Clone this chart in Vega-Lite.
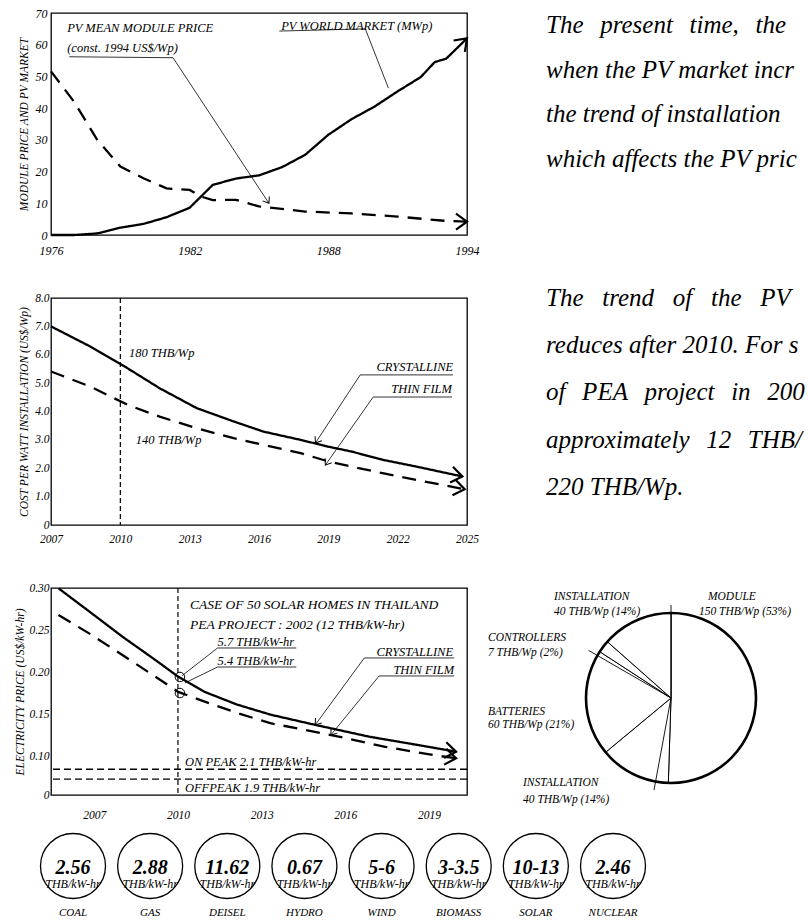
{
  "$schema": "https://vega.github.io/schema/vega-lite/v6.json",
  "background": "white",
  "padding": {"left": 14, "top": 6, "right": 0, "bottom": 0},
  "config": {
    "font": "Liberation Serif",
    "view": {"stroke": "black", "strokeWidth": 1.3},
    "axis": {"grid": false, "domain": false, "ticks": false, "labelOverlap": false, "labelFlush": false, "labelFont": "Liberation Serif", "labelFontStyle": "italic", "labelColor": "black", "labelFontSize": 11.5, "titleFont": "Liberation Serif", "titleFontStyle": "italic", "titleFontWeight": "normal", "titleColor": "black", "titleFontSize": 11.5},
    "text": {"font": "Liberation Serif", "fontStyle": "italic", "color": "black"},
    "line": {"color": "black"},
    "rule": {"color": "black"}
  },
  "datasets": {
    "topLines": [
      {"series": "PV world market", "year": 1976, "value": 0},
      {"series": "PV world market", "year": 1977, "value": 0},
      {"series": "PV world market", "year": 1978, "value": 0.5},
      {"series": "PV world market", "year": 1979, "value": 2.3},
      {"series": "PV world market", "year": 1980, "value": 3.5},
      {"series": "PV world market", "year": 1981, "value": 5.6},
      {"series": "PV world market", "year": 1982, "value": 8.6},
      {"series": "PV world market", "year": 1983, "value": 15.8},
      {"series": "PV world market", "year": 1984, "value": 17.8},
      {"series": "PV world market", "year": 1985, "value": 18.8},
      {"series": "PV world market", "year": 1986, "value": 21.4},
      {"series": "PV world market", "year": 1987, "value": 25.3},
      {"series": "PV world market", "year": 1988, "value": 31.6},
      {"series": "PV world market", "year": 1989, "value": 36.5},
      {"series": "PV world market", "year": 1990, "value": 40.5},
      {"series": "PV world market", "year": 1991, "value": 45.3},
      {"series": "PV world market", "year": 1992, "value": 49.8},
      {"series": "PV world market", "year": 1992.6, "value": 54.5},
      {"series": "PV world market", "year": 1993.1, "value": 55.6},
      {"series": "PV world market", "year": 1994, "value": 62},
      {"series": "PV mean module price", "year": 1976, "value": 51.6},
      {"series": "PV mean module price", "year": 1977, "value": 42},
      {"series": "PV mean module price", "year": 1978, "value": 30},
      {"series": "PV mean module price", "year": 1979, "value": 21.6},
      {"series": "PV mean module price", "year": 1980, "value": 17.9},
      {"series": "PV mean module price", "year": 1981, "value": 14.7},
      {"series": "PV mean module price", "year": 1982, "value": 14.2},
      {"series": "PV mean module price", "year": 1982.5, "value": 12.1},
      {"series": "PV mean module price", "year": 1983, "value": 11},
      {"series": "PV mean module price", "year": 1984, "value": 11.1},
      {"series": "PV mean module price", "year": 1985, "value": 9},
      {"series": "PV mean module price", "year": 1987, "value": 7.4},
      {"series": "PV mean module price", "year": 1989, "value": 6.8},
      {"series": "PV mean module price", "year": 1991, "value": 5.8},
      {"series": "PV mean module price", "year": 1993, "value": 4.5},
      {"series": "PV mean module price", "year": 1994, "value": 4.2}
    ],
    "topArrows": [
      {"arrow": "market", "year": 1994, "value": 62},
      {"arrow": "price", "year": 1994, "value": 4.2},
      {"arrow": "leader", "year": 1985.43, "value": 10.0}
    ],
    "topLeaders": [
      {"x": 1976.79, "y": 56.2, "x2": 1981.28, "y2": 55.9},
      {"x": 1981.28, "y": 55.9, "x2": 1985.43, "y2": 10.0},
      {"x": 1985.88, "y": 64.3, "x2": 1989.6, "y2": 65.0},
      {"x": 1989.6, "y": 65.0, "x2": 1990.6, "y2": 46.3}
    ],
    "topNotes": [
      {"x": 1976.7, "y": 65.4, "text": "PV MEAN MODULE PRICE"},
      {"x": 1976.7, "y": 59.1, "text": "(const. 1994 US$/Wp)"},
      {"x": 1985.96, "y": 65.9, "text": "PV WORLD MARKET (MWp)"}
    ],
    "midLines": [
      {"series": "Crystalline", "year": 2007, "value": 7.0},
      {"series": "Crystalline", "year": 2008.7, "value": 6.29},
      {"series": "Crystalline", "year": 2010.3, "value": 5.53},
      {"series": "Crystalline", "year": 2011.7, "value": 4.82},
      {"series": "Crystalline", "year": 2013.3, "value": 4.12},
      {"series": "Crystalline", "year": 2014.9, "value": 3.65},
      {"series": "Crystalline", "year": 2016.2, "value": 3.29},
      {"series": "Crystalline", "year": 2017.8, "value": 3.0},
      {"series": "Crystalline", "year": 2019.0, "value": 2.76},
      {"series": "Crystalline", "year": 2020.0, "value": 2.59},
      {"series": "Crystalline", "year": 2021.4, "value": 2.29},
      {"series": "Crystalline", "year": 2022.8, "value": 2.06},
      {"series": "Crystalline", "year": 2024.8, "value": 1.71},
      {"series": "Thin film", "year": 2007, "value": 5.41},
      {"series": "Thin film", "year": 2008.7, "value": 4.88},
      {"series": "Thin film", "year": 2010.3, "value": 4.24},
      {"series": "Thin film", "year": 2011.7, "value": 3.82},
      {"series": "Thin film", "year": 2013.3, "value": 3.41},
      {"series": "Thin film", "year": 2014.9, "value": 3.06},
      {"series": "Thin film", "year": 2016.2, "value": 2.82},
      {"series": "Thin film", "year": 2017.8, "value": 2.53},
      {"series": "Thin film", "year": 2019.0, "value": 2.24},
      {"series": "Thin film", "year": 2020.0, "value": 2.06},
      {"series": "Thin film", "year": 2021.4, "value": 1.82},
      {"series": "Thin film", "year": 2022.8, "value": 1.59},
      {"series": "Thin film", "year": 2024.9, "value": 1.26}
    ],
    "midArrows": [
      {"arrow": "end", "year": 2024.8, "value": 1.71},
      {"arrow": "end", "year": 2024.9, "value": 1.26},
      {"arrow": "leader", "year": 2018.44, "value": 2.89},
      {"arrow": "leader", "year": 2018.87, "value": 2.11}
    ],
    "midLeaders": [
      {"x": 2020.38, "y": 5.29, "x2": 2024.39, "y2": 5.29},
      {"x": 2020.38, "y": 5.29, "x2": 2018.44, "y2": 2.89},
      {"x": 2020.94, "y": 4.51, "x2": 2024.35, "y2": 4.51},
      {"x": 2020.94, "y": 4.51, "x2": 2018.87, "y2": 2.11}
    ],
    "midNotesLeft": [
      {"x": 2010.37, "y": 6.06, "text": "180 THB/Wp"},
      {"x": 2010.67, "y": 3.0, "text": "140 THB/Wp"}
    ],
    "midNotesRight": [
      {"x": 2024.4, "y": 5.33, "text": "CRYSTALLINE"},
      {"x": 2024.35, "y": 4.55, "text": "THIN FILM"}
    ],
    "botLines": [
      {"series": "Crystalline", "year": 2005.72, "value": 0.2996},
      {"series": "Crystalline", "year": 2006.83, "value": 0.272},
      {"series": "Crystalline", "year": 2008.01, "value": 0.2424},
      {"series": "Crystalline", "year": 2009.19, "value": 0.2148},
      {"series": "Crystalline", "year": 2010.01, "value": 0.195},
      {"series": "Crystalline", "year": 2010.96, "value": 0.177},
      {"series": "Crystalline", "year": 2012.12, "value": 0.162},
      {"series": "Crystalline", "year": 2013.33, "value": 0.15},
      {"series": "Crystalline", "year": 2014.92, "value": 0.138},
      {"series": "Crystalline", "year": 2016.86, "value": 0.124},
      {"series": "Crystalline", "year": 2018.63, "value": 0.114},
      {"series": "Crystalline", "year": 2019.97, "value": 0.1063},
      {"series": "Thin film", "year": 2005.72, "value": 0.268},
      {"series": "Thin film", "year": 2006.83, "value": 0.246},
      {"series": "Thin film", "year": 2008.01, "value": 0.2207},
      {"series": "Thin film", "year": 2009.19, "value": 0.195},
      {"series": "Thin film", "year": 2010.01, "value": 0.177},
      {"series": "Thin film", "year": 2010.96, "value": 0.1655},
      {"series": "Thin film", "year": 2012.13, "value": 0.152},
      {"series": "Thin film", "year": 2013.31, "value": 0.14},
      {"series": "Thin film", "year": 2015.49, "value": 0.126},
      {"series": "Thin film", "year": 2017.43, "value": 0.112},
      {"series": "Thin film", "year": 2019.2, "value": 0.102},
      {"series": "Thin film", "year": 2019.97, "value": 0.0985}
    ],
    "botArrows": [
      {"arrow": "end", "year": 2019.97, "value": 0.1063},
      {"arrow": "end", "year": 2019.97, "value": 0.0985},
      {"arrow": "leader", "year": 2014.92, "value": 0.138},
      {"arrow": "leader", "year": 2015.48, "value": 0.126}
    ],
    "botMarkers": [
      {"year": 2010.07, "value": 0.1947},
      {"year": 2010.07, "value": 0.1757}
    ],
    "botTariffs": [
      {"tariff": "On peak 2.1 THB/kW-hr", "value": 0.0855},
      {"tariff": "Off peak 1.9 THB/kW-hr", "value": 0.0737}
    ],
    "botLeaders": [
      {"x": 2011.42, "y": 0.229, "x2": 2014.24, "y2": 0.229},
      {"x": 2011.42, "y": 0.229, "x2": 2010.14, "y2": 0.196},
      {"x": 2011.42, "y": 0.2065, "x2": 2014.24, "y2": 0.2065},
      {"x": 2011.42, "y": 0.2065, "x2": 2010.25, "y2": 0.1876},
      {"x": 2016.68, "y": 0.2172, "x2": 2019.9, "y2": 0.2172},
      {"x": 2016.68, "y": 0.2172, "x2": 2014.92, "y2": 0.138},
      {"x": 2017.21, "y": 0.1959, "x2": 2019.9, "y2": 0.1959},
      {"x": 2017.21, "y": 0.1959, "x2": 2015.48, "y2": 0.126}
    ],
    "botNotesLeft": [
      {"x": 2010.43, "y": 0.28, "size": "big", "text": "CASE OF 50 SOLAR HOMES IN THAILAND"},
      {"x": 2010.43, "y": 0.2562, "size": "big", "text": "PEA PROJECT : 2002 (12 THB/kW-hr)"},
      {"x": 2011.42, "y": 0.2361, "size": "small", "text": "5.7 THB/kW-hr"},
      {"x": 2011.42, "y": 0.2136, "size": "small", "text": "5.4 THB/kW-hr"},
      {"x": 2010.25, "y": 0.0945, "size": "small", "text": "ON PEAK  2.1 THB/kW-hr"},
      {"x": 2010.25, "y": 0.0635, "size": "small", "text": "OFFPEAK 1.9 THB/kW-hr"}
    ],
    "botNotesRight": [
      {"x": 2019.86, "y": 0.2243, "text": "CRYSTALLINE"},
      {"x": 2019.9, "y": 0.203, "text": "THIN FILM"}
    ],
    "pie": [
      {"part": "Module", "thb": 150, "order": 1},
      {"part": "Installation", "thb": 40, "order": 2},
      {"part": "Batteries", "thb": 60, "order": 3},
      {"part": "Controllers", "thb": 7, "order": 4},
      {"part": "Installation (top)", "thb": 40, "order": 5}
    ],
    "pieLeaders": [
      {"x": 0, "y": 0, "x2": 0, "y2": 1.094},
      {"x": 0, "y": 0, "x2": -0.2, "y2": -1.082},
      {"x": 0, "y": 0, "x2": -0.97, "y2": 0.56}
    ],
    "pieNotes": [
      {"x": -1.376, "y": 1.188, "text": "INSTALLATION"},
      {"x": -1.376, "y": 1.012, "text": "40 THB/Wp (14%)"},
      {"x": 0.435, "y": 1.188, "text": "MODULE"},
      {"x": 0.329, "y": 1.012, "text": "150 THB/Wp (53%)"},
      {"x": -2.153, "y": 0.706, "text": "CONTROLLERS"},
      {"x": -2.153, "y": 0.529, "text": "7 THB/Wp (2%)"},
      {"x": -2.153, "y": -0.165, "text": "BATTERIES"},
      {"x": -2.153, "y": -0.318, "text": "60 THB/Wp (21%)"},
      {"x": -1.741, "y": -1.0, "text": "INSTALLATION"},
      {"x": -1.741, "y": -1.2, "text": "40 THB/Wp (14%)"}
    ],
    "costs": [
      {"source": "COAL", "cost": "2.56"},
      {"source": "GAS", "cost": "2.88"},
      {"source": "DEISEL", "cost": "11.62"},
      {"source": "HYDRO", "cost": "0.67"},
      {"source": "WIND", "cost": "5-6"},
      {"source": "BIOMASS", "cost": "3-3.5"},
      {"source": "SOLAR", "cost": "10-13"},
      {"source": "NUCLEAR", "cost": "2.46"}
    ],
    "para1": [
      {"line": 1, "text": "The\u2004\u2004present\u2004\u2004time,\u2004\u2004the\u2004\u2004c"},
      {"line": 2, "text": "when the PV market incr"},
      {"line": 3, "text": "the trend of installation"},
      {"line": 4, "text": "which affects the PV pric"}
    ],
    "para2": [
      {"line": 1, "text": "The\u2002\u2005trend\u2002\u2005of\u2002\u2005the\u2002\u2005PV"},
      {"line": 2, "text": "reduces after 2010. For s"},
      {"line": 3, "text": "of\u2004\u2004PEA\u2004\u2004project\u2004\u2004in\u2004\u20042002"},
      {"line": 4, "text": "approximately\u2004\u200412\u2004\u2004THB/"},
      {"line": 5, "text": "220 THB/Wp."}
    ]
  },
  "columns": 2,
  "bounds": "flush",
  "spacing": {"row": 63, "column": 79},
  "concat": [
    {
      "width": 416,
      "height": 222,
      "layer": [
        {
          "data": {"name": "topLines"},
          "mark": {"type": "line", "strokeWidth": 2.3, "color": "black"},
          "encoding": {
            "x": {"field": "year", "type": "quantitative", "scale": {"domain": [1976, 1994], "nice": false, "zero": false}, "axis": {"values": [1976, 1982, 1988, 1994], "format": "d", "title": null, "labelPadding": 10, "labelFontSize": 12, "labelFlush": false}},
            "y": {"field": "value", "type": "quantitative", "scale": {"domain": [0, 70], "nice": false}, "axis": {"values": [0, 10, 20, 30, 40, 50, 60, 70], "tickCount": 8, "labelOverlap": false, "labelFlush": false, "title": "MODULE PRICE AND PV MARKET", "labelPadding": 4, "titlePadding": 6, "labelFontSize": 12}},
            "strokeDash": {"field": "series", "type": "nominal", "scale": {"domain": ["PV world market", "PV mean module price"], "range": [[1, 0], [14, 9]]}, "legend": null}
          }
        },
        {
          "data": {"name": "topLeaders"},
          "mark": {"type": "rule", "strokeWidth": 0.8, "color": "black"},
          "encoding": {"x": {"field": "x", "type": "quantitative"}, "x2": {"field": "x2"}, "y": {"field": "y", "type": "quantitative"}, "y2": {"field": "y2"}}
        },
        {
          "data": {"name": "topNotes"},
          "mark": {"type": "text", "align": "left", "baseline": "middle", "fontSize": 12.5},
          "encoding": {"x": {"field": "x", "type": "quantitative"}, "y": {"field": "y", "type": "quantitative"}, "text": {"field": "text"}}
        },
        {
          "data": {"name": "topArrows"},
          "transform": [{"filter": "datum.arrow == 'market'"}],
          "mark": {"type": "point", "shape": "M-1.1,-0.8L0,0L-1.1,0.8", "filled": false, "stroke": "black", "strokeWidth": 2.2, "size": 400, "angle": -45, "opacity": 1},
          "encoding": {"x": {"field": "year", "type": "quantitative"}, "y": {"field": "value", "type": "quantitative"}}
        },
        {
          "data": {"name": "topArrows"},
          "transform": [{"filter": "datum.arrow == 'price'"}],
          "mark": {"type": "point", "shape": "M-1.1,-0.8L0,0L-1.1,0.8", "filled": false, "stroke": "black", "strokeWidth": 2.2, "size": 400, "angle": 0, "opacity": 1},
          "encoding": {"x": {"field": "year", "type": "quantitative"}, "y": {"field": "value", "type": "quantitative"}}
        },
        {
          "data": {"name": "topArrows"},
          "transform": [{"filter": "datum.arrow == 'leader'"}],
          "mark": {"type": "point", "shape": "M-1.1,-0.8L0,0L-1.1,0.8", "filled": false, "stroke": "black", "strokeWidth": 1, "size": 100, "angle": 57, "opacity": 1},
          "encoding": {"x": {"field": "year", "type": "quantitative"}, "y": {"field": "value", "type": "quantitative"}}
        }
      ]
    },
    {
      "width": 263,
      "height": 222,
      "view": {"stroke": null},
      "data": {"name": "para1"},
      "mark": {"type": "text", "align": "left", "baseline": "middle", "fontSize": 25, "limit": 263, "ellipsis": "\u200b"},
      "encoding": {
        "x": {"datum": 0, "type": "quantitative", "scale": {"domain": [0, 1]}, "axis": null},
        "y": {"field": "line", "type": "quantitative", "scale": {"domain": [0.73, 5.719], "reverse": true, "nice": false, "zero": false}, "axis": null},
        "text": {"field": "text"}
      }
    },
    {
      "width": 416,
      "height": 227,
      "layer": [
        {
          "data": {"name": "midLines"},
          "mark": {"type": "line", "strokeWidth": 2.3, "color": "black"},
          "encoding": {
            "x": {"field": "year", "type": "quantitative", "scale": {"domain": [2007, 2025], "nice": false, "zero": false}, "axis": {"values": [2007, 2010, 2013, 2016, 2019, 2022, 2025], "format": "d", "title": null, "labelPadding": 8, "labelFlush": false}},
            "y": {"field": "value", "type": "quantitative", "scale": {"domain": [0, 8], "nice": false}, "axis": {"values": [0, 1, 2, 3, 4, 5, 6, 7, 8], "tickCount": 9, "labelOverlap": false, "labelFlush": false, "labelExpr": "datum.value == 0 ? '0' : format(datum.value, '.1f')", "title": "COST PER WATT INSTALLATION (US$/Wp)", "labelPadding": 2, "titlePadding": 5}},
            "strokeDash": {"field": "series", "type": "nominal", "scale": {"domain": ["Crystalline", "Thin film"], "range": [[1, 0], [13, 8]]}, "legend": null}
          }
        },
        {
          "data": {"values": [{"year": 2010}]},
          "mark": {"type": "rule", "strokeWidth": 1.2, "strokeDash": [5, 3], "color": "black"},
          "encoding": {"x": {"field": "year", "type": "quantitative"}}
        },
        {
          "data": {"name": "midLeaders"},
          "mark": {"type": "rule", "strokeWidth": 0.8, "color": "black"},
          "encoding": {"x": {"field": "x", "type": "quantitative"}, "x2": {"field": "x2"}, "y": {"field": "y", "type": "quantitative"}, "y2": {"field": "y2"}}
        },
        {
          "data": {"name": "midNotesLeft"},
          "mark": {"type": "text", "align": "left", "baseline": "middle", "fontSize": 12.5},
          "encoding": {"x": {"field": "x", "type": "quantitative"}, "y": {"field": "y", "type": "quantitative"}, "text": {"field": "text"}}
        },
        {
          "data": {"name": "midNotesRight"},
          "mark": {"type": "text", "align": "right", "baseline": "bottom", "fontSize": 12.5},
          "encoding": {"x": {"field": "x", "type": "quantitative"}, "y": {"field": "y", "type": "quantitative"}, "text": {"field": "text"}}
        },
        {
          "data": {"name": "midArrows"},
          "transform": [{"filter": "datum.arrow == 'end'"}],
          "mark": {"type": "point", "shape": "M-1.1,-0.8L0,0L-1.1,0.8", "filled": false, "stroke": "black", "strokeWidth": 2.2, "size": 400, "angle": 10, "opacity": 1},
          "encoding": {"x": {"field": "year", "type": "quantitative"}, "y": {"field": "value", "type": "quantitative"}}
        },
        {
          "data": {"name": "midArrows"},
          "transform": [{"filter": "datum.arrow == 'leader'"}],
          "mark": {"type": "point", "shape": "M-1.1,-0.8L0,0L-1.1,0.8", "filled": false, "stroke": "black", "strokeWidth": 1, "size": 100, "angle": 124, "opacity": 1},
          "encoding": {"x": {"field": "year", "type": "quantitative"}, "y": {"field": "value", "type": "quantitative"}}
        }
      ]
    },
    {
      "width": 263,
      "height": 227,
      "view": {"stroke": null},
      "data": {"name": "para2"},
      "mark": {"type": "text", "align": "left", "baseline": "middle", "fontSize": 25, "limit": 263, "ellipsis": "\u200b"},
      "encoding": {
        "x": {"datum": 0, "type": "quantitative", "scale": {"domain": [0, 1]}, "axis": null},
        "y": {"field": "line", "type": "quantitative", "scale": {"domain": [1, 5.81], "reverse": true, "nice": false, "zero": false}, "axis": null},
        "text": {"field": "text"}
      }
    },
    {
      "width": 416,
      "height": 207,
      "layer": [
        {
          "data": {"name": "botLines"},
          "mark": {"type": "line", "strokeWidth": 2.3, "color": "black"},
          "encoding": {
            "x": {"field": "year", "type": "quantitative", "scale": {"domain": [2005.45, 2020.36], "nice": false, "zero": false}, "axis": {"values": [2007, 2010, 2013, 2016, 2019], "format": "d", "title": null, "labelPadding": 14, "labelFlush": false}},
            "y": {"field": "value", "type": "quantitative", "scale": {"domain": [0.055, 0.3], "nice": false, "zero": false}, "axis": {"values": [0.055, 0.1, 0.15, 0.2, 0.25, 0.3], "labelOverlap": false, "labelFlush": false, "labelExpr": "datum.value < 0.06 ? '0' : format(datum.value, '.2f')", "title": "ELECTRICITY PRICE (US$/kW-hr)", "labelPadding": 2, "titlePadding": 3}},
            "strokeDash": {"field": "series", "type": "nominal", "scale": {"domain": ["Crystalline", "Thin film"], "range": [[1, 0], [13, 8]]}, "legend": null}
          }
        },
        {
          "data": {"values": [{"year": 2010}]},
          "mark": {"type": "rule", "strokeWidth": 1.2, "strokeDash": [5, 3], "color": "black"},
          "encoding": {"x": {"field": "year", "type": "quantitative"}}
        },
        {
          "data": {"name": "botTariffs"},
          "mark": {"type": "rule", "strokeWidth": 1.3, "strokeDash": [7, 4], "color": "black"},
          "encoding": {"y": {"field": "value", "type": "quantitative"}}
        },
        {
          "data": {"name": "botLeaders"},
          "mark": {"type": "rule", "strokeWidth": 0.8, "color": "black"},
          "encoding": {"x": {"field": "x", "type": "quantitative"}, "x2": {"field": "x2"}, "y": {"field": "y", "type": "quantitative"}, "y2": {"field": "y2"}}
        },
        {
          "data": {"name": "botMarkers"},
          "mark": {"type": "point", "shape": "circle", "size": 90, "filled": false, "stroke": "black", "strokeWidth": 1, "opacity": 1},
          "encoding": {"x": {"field": "year", "type": "quantitative"}, "y": {"field": "value", "type": "quantitative"}}
        },
        {
          "data": {"name": "botNotesLeft"},
          "mark": {"type": "text", "align": "left", "baseline": "middle"},
          "encoding": {
            "x": {"field": "x", "type": "quantitative"},
            "y": {"field": "y", "type": "quantitative"},
            "text": {"field": "text"},
            "size": {"field": "size", "type": "nominal", "scale": {"domain": ["big", "small"], "range": [13.5, 12.5]}, "legend": null}
          }
        },
        {
          "data": {"name": "botNotesRight"},
          "mark": {"type": "text", "align": "right", "baseline": "middle", "fontSize": 12.5},
          "encoding": {"x": {"field": "x", "type": "quantitative"}, "y": {"field": "y", "type": "quantitative"}, "text": {"field": "text"}}
        },
        {
          "data": {"name": "botArrows"},
          "transform": [{"filter": "datum.arrow == 'end'"}],
          "mark": {"type": "point", "shape": "M-1.1,-0.8L0,0L-1.1,0.8", "filled": false, "stroke": "black", "strokeWidth": 2.2, "size": 400, "angle": 8, "opacity": 1},
          "encoding": {"x": {"field": "year", "type": "quantitative"}, "y": {"field": "value", "type": "quantitative"}}
        },
        {
          "data": {"name": "botArrows"},
          "transform": [{"filter": "datum.arrow == 'leader'"}],
          "mark": {"type": "point", "shape": "M-1.1,-0.8L0,0L-1.1,0.8", "filled": false, "stroke": "black", "strokeWidth": 1, "size": 100, "angle": 128, "opacity": 1},
          "encoding": {"x": {"field": "year", "type": "quantitative"}, "y": {"field": "value", "type": "quantitative"}}
        }
      ]
    },
    {
      "width": 263,
      "height": 207,
      "view": {"stroke": null},
      "layer": [
        {
          "data": {"name": "pie"},
          "mark": {"type": "arc", "outerRadius": 85, "fill": "white", "stroke": "black", "strokeWidth": 1},
          "encoding": {
            "theta": {"field": "thb", "type": "quantitative", "stack": true},
            "order": {"field": "order", "type": "quantitative"},
            "x": {"datum": 0, "type": "quantitative", "scale": {"domain": [-1.4706, 1.6235], "nice": false, "zero": false}, "axis": null},
            "y": {"datum": 0, "type": "quantitative", "scale": {"domain": [-1.141, 1.294], "nice": false, "zero": false}, "axis": null}
          }
        },
        {
          "data": {"name": "pieLeaders"},
          "mark": {"type": "rule", "strokeWidth": 0.9, "color": "black"},
          "encoding": {"x": {"field": "x", "type": "quantitative"}, "x2": {"field": "x2"}, "y": {"field": "y", "type": "quantitative"}, "y2": {"field": "y2"}}
        },
        {
          "data": {"values": [{"cx": 0, "cy": 0}]},
          "mark": {"type": "point", "shape": "circle", "size": 28900, "filled": false, "stroke": "black", "strokeWidth": 2.6, "opacity": 1},
          "encoding": {"x": {"field": "cx", "type": "quantitative"}, "y": {"field": "cy", "type": "quantitative"}}
        },
        {
          "data": {"name": "pieNotes"},
          "mark": {"type": "text", "align": "left", "baseline": "middle", "fontSize": 11.5},
          "encoding": {"x": {"field": "x", "type": "quantitative"}, "y": {"field": "y", "type": "quantitative"}, "text": {"field": "text"}}
        }
      ]
    },
    {
      "width": 416,
      "height": 16,
      "view": {"stroke": null},
      "data": {"name": "costs"},
      "encoding": {
        "x": {"field": "source", "type": "nominal", "sort": null, "scale": {"type": "point", "range": [22, 562], "padding": 0}, "axis": null}
      },
      "layer": [
        {"mark": {"type": "point", "shape": "circle", "size": 4225, "filled": false, "stroke": "black", "strokeWidth": 1.3, "opacity": 1}},
        {"mark": {"type": "text", "fontSize": 20, "fontWeight": "bold", "dy": 2}, "encoding": {"text": {"field": "cost"}}},
        {"mark": {"type": "text", "fontSize": 12, "dy": 18}, "encoding": {"text": {"value": "THB/kW-hr"}}},
        {"mark": {"type": "text", "fontSize": 11, "dy": 47}, "encoding": {"text": {"field": "source"}}}
      ]
    }
  ]
}
